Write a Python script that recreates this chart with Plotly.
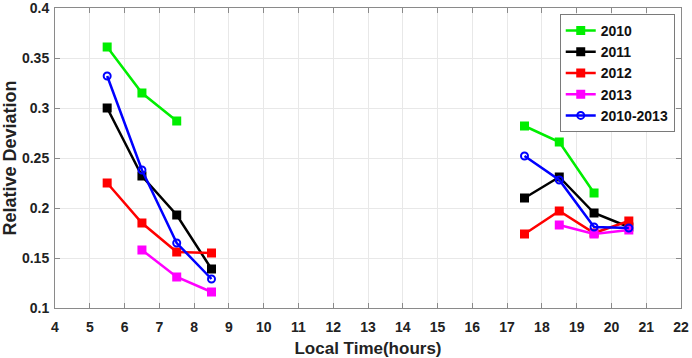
import plotly.graph_objects as go

hours = [5.5, 6.5, 7.5, 8.5, None, 17.5, 18.5, 19.5, 20.5]

y2010 = [0.361, 0.315, 0.287, None, None, 0.282, 0.266, 0.215, None]
y2011 = [0.300, 0.232, 0.193, 0.139, None, 0.210, 0.231, 0.195, 0.181]
y2012 = [0.225, 0.185, 0.156, 0.155, None, 0.174, 0.197, 0.175, 0.187]
y2013 = [None, 0.158, 0.131, 0.116, None, None, 0.183, 0.174, 0.178]
yall = [0.332, 0.238, 0.165, 0.129, None, 0.252, 0.228, 0.181, 0.180]

series = [
    ("2010", y2010, "#00ee00", "square"),
    ("2011", y2011, "#000000", "square"),
    ("2012", y2012, "#ff0000", "square"),
    ("2013", y2013, "#ff00ff", "square"),
    ("2010-2013", yall, "#0000ff", "circle-open"),
]

fig = go.Figure()
for name, ys, color, sym in series:
    fig.add_trace(go.Scatter(
        x=hours, y=ys, name=name, mode="lines+markers",
        connectgaps=False,
        line=dict(color=color, width=2.5),
        marker=dict(color=color, symbol=sym, size=7,
                    line=dict(color=color, width=2)),
    ))

font = "Liberation Sans, Arial, sans-serif"
axis_common = dict(
    showgrid=True, gridcolor="#e8e8e8", gridwidth=1,
    showline=True, linecolor="#8a8a8a", linewidth=1, mirror="ticks",
    ticks="inside", ticklen=5, tickcolor="#8a8a8a",
    tickfont=dict(family=font, size=14, color="#222222", weight="bold"),
    zeroline=False, automargin=False, ticklabeloverflow="allow",
)

fig.update_layout(
    width=692, height=358,
    margin=dict(l=55, r=11, t=8, b=50),
    paper_bgcolor="white", plot_bgcolor="white",
    font=dict(family=font, color="#222222"),
    showlegend=True,
    legend=dict(
        x=0.99, y=0.98, xanchor="right", yanchor="top",
        bgcolor="white", bordercolor="#7a7a7a", borderwidth=1,
        font=dict(family=font, size=14, color="#111111", weight="bold"),
        itemwidth=30, tracegroupgap=0,
    ),
)
fig.update_xaxes(
    range=[4, 22], dtick=1, tick0=4, ticklabelstandoff=6,
    title=dict(text="<b>Local Time(hours)</b>", font=dict(size=17, family=font, color="#222222"), standoff=8),
    **axis_common,
)
fig.update_yaxes(
    range=[0.1, 0.4], dtick=0.05, tick0=0.1, ticklabelstandoff=2,
    title=dict(text="<b>Relative Deviation</b>", font=dict(size=18, family=font, color="#222222"), standoff=3),
    **axis_common,
)

fig.write_html(
    "out.html",
    config={"displayModeBar": False},
    post_script="document.body.style.margin='0';document.body.style.overflow='hidden';",
)
